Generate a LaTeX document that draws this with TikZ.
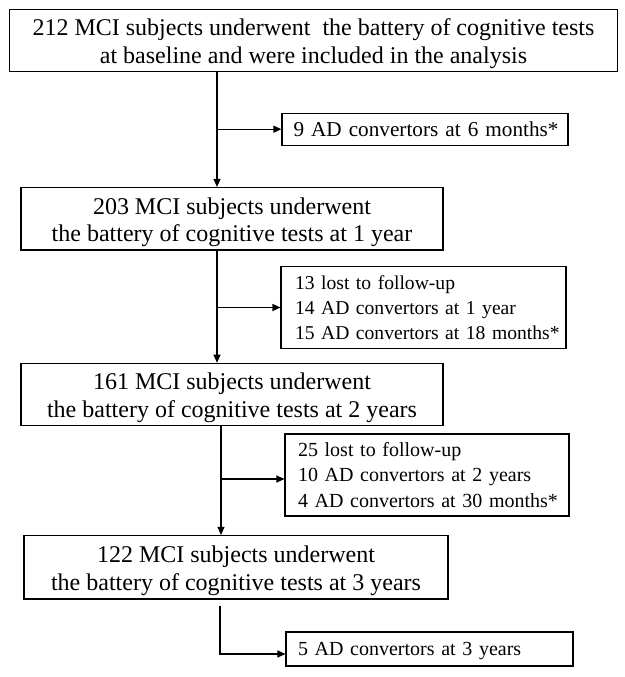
\documentclass[tikz,border=0pt]{standalone}
\usepackage{fontspec}
\setmainfont{Liberation Serif}
\usetikzlibrary{arrows.meta,calc}
\newcommand\myTopStrut{\rule{0pt}{23.6pt}}
\newcommand\myIndent[1]{\hspace*{#1}}
\begin{document}
\begin{tikzpicture}[x=1pt,y=-1pt,
 mainbox/.style={draw,line width=1.1pt,align=center,font=\fontsize{24}{27.5}\selectfont,inner sep=0pt},
 sidebox/.style={draw,line width=1.1pt,align=left,font=\fontsize{20}{25.3}\selectfont,inner xsep=1pt,inner ysep=0pt},
 arr/.style={line width=1.1pt,-{Triangle[length=8pt,width=7pt]}}]
\useasboundingbox (0,0) rectangle (624,677);
\node[mainbox,minimum width=608pt,minimum height=62.5pt] (b1) at (313.5,40.5) {\myTopStrut 212 MCI subjects underwent\ \ the battery of cognitive tests\\at baseline and were included in the analysis};
\node[sidebox,text width=284pt,minimum height=32pt,font=\fontsize{21.2}{25}\selectfont] (s1) at (425,129.2) {\myIndent{10.5pt}\mbox{9 AD convertors at 6 months*}};
\node[mainbox,minimum width=422pt,minimum height=62.5pt] (b2) at (232,218.7) {\myTopStrut 203 MCI subjects underwent\\the battery of cognitive tests at 1 year};
\node[sidebox,text width=283pt,minimum height=81.5pt,font=\fontsize{19.6}{25.3}\selectfont] (s2) at (423.5,307.5) {\myIndent{13pt}\mbox{13 lost to follow-up}\\\myIndent{13pt}\mbox{14 AD convertors at 1 year}\\\myIndent{13pt}\mbox{15 AD convertors at 18 months*}};
\node[mainbox,minimum width=422pt,minimum height=62.5pt] (b3) at (232,394.5) {\myTopStrut 161 MCI subjects underwent\\the battery of cognitive tests at 2 years};
\node[sidebox,text width=282pt,minimum height=82pt] (s3) at (427,475) {\myIndent{12pt}\mbox{25 lost to follow-up}\\\myIndent{12pt}\mbox{10 AD convertors at 2 years}\\\myIndent{12pt}\mbox{4 AD convertors at 30 months*}};
\node[mainbox,minimum width=424pt,minimum height=63.5pt] (b4) at (236,567.2) {\myTopStrut 122 MCI subjects underwent\\the battery of cognitive tests at 3 years};
\node[sidebox,text width=285pt,minimum height=34pt,text depth=0pt] (s4) at (429.5,649) {\myIndent{11pt}\mbox{5 AD convertors at 3 years}};
\coordinate (x1) at (217,0);
\coordinate (x3) at (221,0);
\coordinate (x4) at (220,0);
\draw[arr] (b1.south -| x1) -- (b2.north -| x1);
\draw[arr] (s1.west -| x1) -- (s1.west);
\draw[arr] (b2.south -| x1) -- (b3.north -| x1);
\draw[arr] (s2.west -| x1) -- (s2.west);
\draw[arr] (b3.south -| x3) -- (b4.north -| x3);
\draw[arr] ([yshift=-4pt]s3.west -| x3) -- ([yshift=-4pt]s3.west);
\draw[arr] ([yshift=-6pt]b4.south -| x4) -- ([yshift=-5pt]s4.west -| x4) -- ([yshift=-5pt]s4.west);
\end{tikzpicture}
\end{document}
